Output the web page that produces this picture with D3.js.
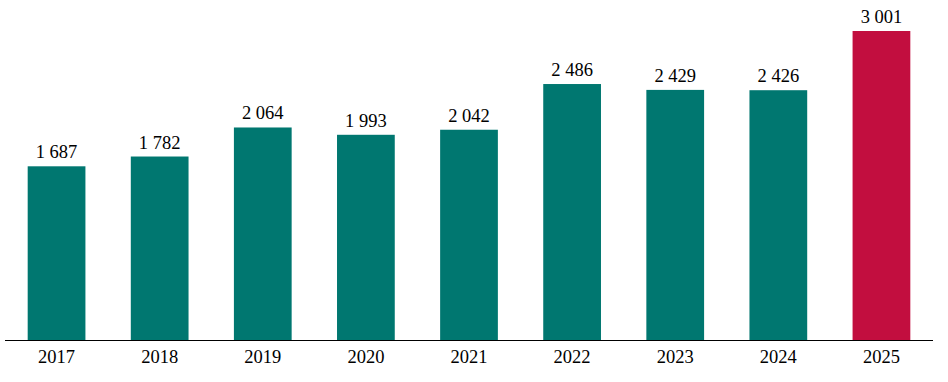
<!DOCTYPE html>
<html><head><meta charset="utf-8">
<script src="https://cdn.jsdelivr.net/npm/d3@7"></script>
<style>body{margin:0;background:#fff}svg{display:block}</style>
</head><body>
<script>
const years = ["2017","2018","2019","2020","2021","2022","2023","2024","2025"];
const values = [1687,1782,2064,1993,2042,2486,2429,2426,3001];
const labels = ["1 687","1 782","2 064","1 993","2 042","2 486","2 429","2 426","3 001"];
const W=948,H=382;
const svg=d3.select("body").append("svg").attr("width",W).attr("height",H);
const x=d3.scaleBand().domain(years).range([5,933]).paddingInner(0.44).paddingOuter(0.22);
const y=d3.scaleLinear().domain([0,3001]).range([340,31]);
const font="'Palatino Linotype','Book Antiqua',Palatino,'Liberation Serif','DejaVu Serif',serif";
svg.selectAll("rect").data(values).join("rect")
 .attr("x",(d,i)=>x(years[i])).attr("width",x.bandwidth())
 .attr("y",d=>y(d)).attr("height",d=>y(0)-y(d))
 .attr("fill",(d,i)=>i===years.length-1?"#c20e3f":"#007770");
svg.selectAll("text.v").data(values).join("text").attr("class","v")
 .attr("x",(d,i)=>x(years[i])+x.bandwidth()/2).attr("y",d=>y(d)-8)
 .attr("text-anchor","middle").attr("font-family",font).attr("font-size",18.5)
 .text((d,i)=>labels[i]);
const ax=svg.append("g").attr("transform","translate(0,340)").call(d3.axisBottom(x).tickSize(0).tickPadding(10));
ax.select(".domain").attr("stroke","#000").attr("d","M5,0.5H933");
ax.selectAll("text").attr("font-family",font).attr("font-size",18.5).attr("fill","#000");
</script>
</body></html>
